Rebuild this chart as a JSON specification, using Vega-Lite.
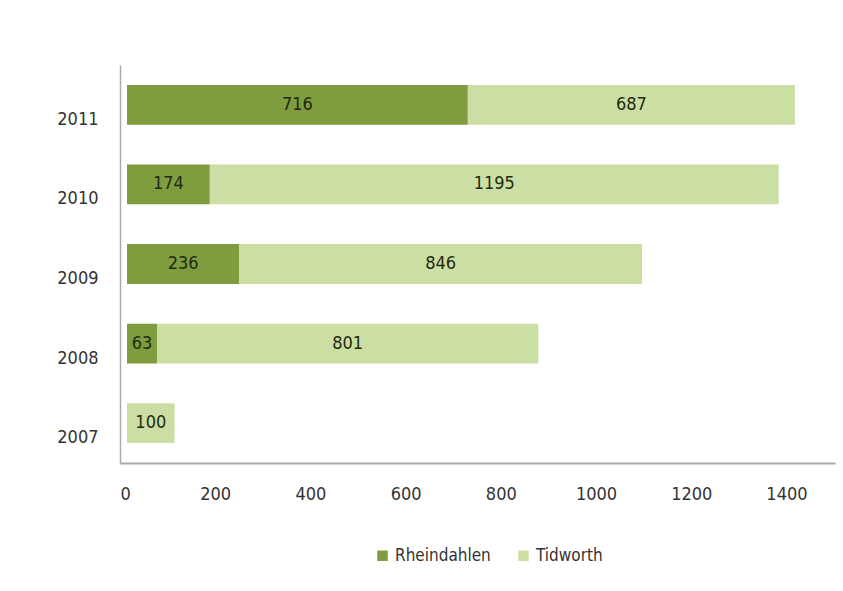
{
  "$schema": "https://vega.github.io/schema/vega-lite/v6.json",
  "width": 715,
  "height": 398,
  "autosize": {"type": "none"},
  "padding": {"left": 120, "top": 65, "right": 8, "bottom": 128},
  "background": "white",
  "config": {
    "view": {"stroke": null},
    "font": "DejaVu Sans Condensed"
  },
  "data": {
    "values": [
      {"year": "2011", "site": "Rheindahlen", "order": 1, "value": 716},
      {"year": "2011", "site": "Tidworth", "order": 2, "value": 687},
      {"year": "2010", "site": "Rheindahlen", "order": 1, "value": 174},
      {"year": "2010", "site": "Tidworth", "order": 2, "value": 1195},
      {"year": "2009", "site": "Rheindahlen", "order": 1, "value": 236},
      {"year": "2009", "site": "Tidworth", "order": 2, "value": 846},
      {"year": "2008", "site": "Rheindahlen", "order": 1, "value": 63},
      {"year": "2008", "site": "Tidworth", "order": 2, "value": 801},
      {"year": "2007", "site": "Tidworth", "order": 2, "value": 100}
    ]
  },
  "transform": [
    {"stack": "value", "groupby": ["year"], "sort": [{"field": "order"}], "as": ["v0", "v1"]},
    {"calculate": "(datum.v0 + datum.v1) / 2", "as": "mid"}
  ],
  "encoding": {
    "y": {
      "field": "year",
      "type": "ordinal",
      "sort": "descending",
      "scale": {"paddingInner": 0.5, "paddingOuter": 0.25},
      "axis": {
        "title": null,
        "ticks": false,
        "domainColor": "#aaaaaa",
        "domainWidth": 1.5,
        "labelFontSize": 18,
        "labelColor": "#333333",
        "labelPadding": 22,
        "labelOffset": 15
      }
    }
  },
  "layer": [
    {
      "mark": {"type": "bar", "xOffset": 7, "x2Offset": 7},
      "encoding": {
        "x": {
          "field": "v0",
          "type": "quantitative",
          "scale": {"domain": [0, 1502], "nice": false},
          "axis": {
            "title": null,
            "format": "d",
            "values": [0, 200, 400, 600, 800, 1000, 1200, 1400],
            "grid": false,
            "ticks": false,
            "domainColor": "#aaaaaa",
            "domainWidth": 2,
            "labelFontSize": 18,
            "labelColor": "#333333",
            "labelPadding": 22
          }
        },
        "x2": {"field": "v1"},
        "color": {
          "field": "site",
          "type": "nominal",
          "scale": {"domain": ["Rheindahlen", "Tidworth"], "range": ["#7f9c3e", "#cbdea4"]},
          "legend": {
            "title": null,
            "orient": "none",
            "legendX": 254,
            "legendY": 482,
            "direction": "horizontal",
            "symbolType": "square",
            "symbolSize": 110,
            "symbolStrokeWidth": 0,
            "labelFontSize": 17,
            "labelColor": "#333333",
            "columnPadding": 24
          }
        }
      }
    },
    {
      "mark": {"type": "text", "fontSize": 18, "color": "#1f2a10", "xOffset": 7},
      "encoding": {
        "x": {"field": "mid", "type": "quantitative"},
        "text": {"field": "value", "type": "quantitative"}
      }
    }
  ]
}
